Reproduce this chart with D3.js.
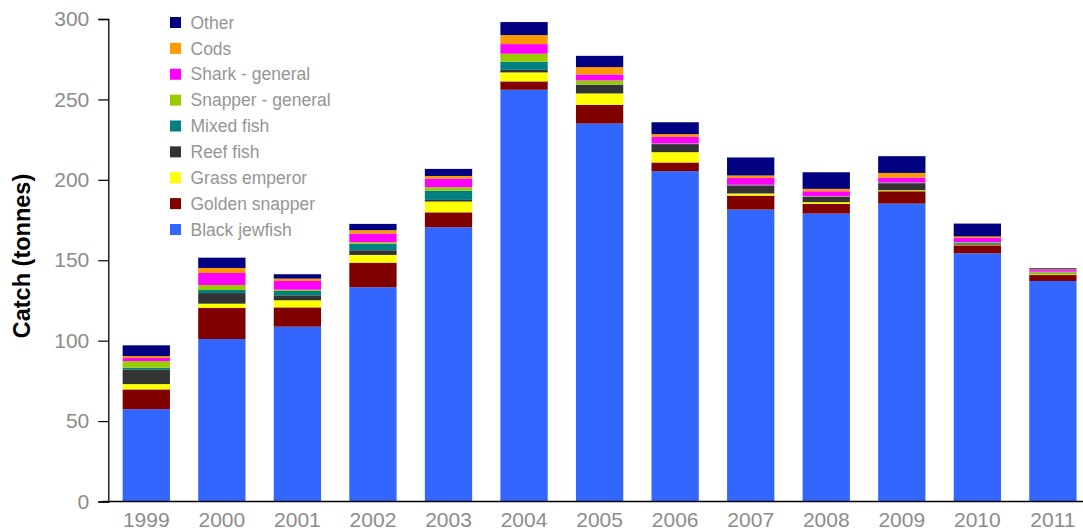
<!DOCTYPE html>
<html>
<head>
<meta charset="utf-8">
<script src="https://cdn.jsdelivr.net/npm/d3@7/dist/d3.min.js"></script>
<style>
  html, body { margin: 0; padding: 0; background: #fff; }
  svg { display: block; }
  text { font-family: "Liberation Sans", Arial, sans-serif; }
</style>
</head>
<body>
<svg id="chart" width="1083" height="531"></svg>
<script>
// Years on the x axis
const years = ["1999","2000","2001","2002","2003","2004","2005","2006","2007","2008","2009","2010","2011"];

// Catch by species group (tonnes), stacked bottom to top
const blackJewfish   = [57.4, 101.0, 108.7, 133.2, 170.5, 256.0, 235.0, 205.4, 181.5, 179.0, 185.2, 154.3, 137.1];
const goldenSnapper  = [12.3,  19.3,  12.0,  15.3,   9.3,   5.2,  11.6,   5.4,   8.7,   6.0,   7.7,   5.0,   3.7];
const grassEmperor   = [ 3.3,   2.7,   4.4,   4.8,   6.7,   5.6,   7.1,   6.4,   1.3,   1.1,   0.6,   0.4,   0.5];
const reefFish       = [ 9.1,   6.6,   3.1,   2.9,   1.0,   1.6,   5.4,   5.0,   5.0,   3.3,   4.4,   0.6,   0.3];
const mixedFish      = [ 1.1,   1.9,   2.7,   4.1,   5.8,   5.0,   0.2,   0.2,   0.2,   0.2,   0.2,   0.7,   0.3];
const snapperGeneral = [ 4.1,   3.1,   0.8,   0.9,   2.1,   5.0,   2.5,   0.2,   0.2,   0.2,   0.2,   0.3,   1.0];
const sharkGeneral   = [ 1.9,   7.5,   5.4,   5.4,   5.4,   6.0,   3.7,   4.1,   4.3,   3.1,   3.1,   2.5,   1.0];
const cods           = [ 1.2,   3.1,   1.5,   2.1,   1.6,   5.6,   4.6,   1.7,   1.5,   1.5,   2.9,   1.0,   0.5];
const other          = [ 6.7,   6.4,   2.7,   3.9,   4.4,   8.1,   7.0,   7.4,  11.2,  10.3,  10.4,   8.0,   0.6];

// Series names, bottom of stack first
const seriesNames  = ["Black jewfish","Golden snapper","Grass emperor","Reef fish","Mixed fish","Snapper - general","Shark - general","Cods","Other"];
const seriesValues = [blackJewfish, goldenSnapper, grassEmperor, reefFish, mixedFish, snapperGeneral, sharkGeneral, cods, other];
const seriesColors = ["#3366FF","#800000","#FFFF00","#333333","#008080","#99CC00","#FF00FF","#FF9900","#000080"];

// Y axis ticks
const yTicks = [0, 50, 100, 150, 200, 250, 300];

const svg = d3.select("#chart");

// Row-per-year table for d3.stack
const table = years.map((y, i) => {
  const row = { year: y };
  seriesNames.forEach((name, k) => { row[name] = seriesValues[k][i]; });
  return row;
});
const stacked = d3.stack().keys(seriesNames)(table);

const x = d3.scaleBand()
  .domain(years)
  .range([108.3, 1090.9])
  .paddingInner(0.374)
  .paddingOuter(0.19);

const y = d3.scaleLinear()
  .domain([0, 300])
  .range([501.5, 19]);

// Stacked bars
const colorOf = d3.scaleOrdinal().domain(seriesNames).range(seriesColors);
svg.append("g")
  .selectAll("g")
  .data(stacked)
  .join("g")
    .attr("fill", d => colorOf(d.key))
  .selectAll("rect")
  .data(d => d)
  .join("rect")
    .attr("x", d => x(d.data.year))
    .attr("width", x.bandwidth())
    .attr("y", d => y(d[1]))
    .attr("height", d => Math.max(0, y(d[0]) - y(d[1])));

// Y axis
const yAxis = svg.append("g")
  .attr("transform", "translate(108.3,0)")
  .call(d3.axisLeft(y).tickValues(yTicks).tickSize(10).tickPadding(9).tickFormat(d3.format("d")));
yAxis.select(".domain").attr("stroke", "#000").attr("stroke-width", 1.3);
yAxis.selectAll(".tick line").attr("stroke", "#000").attr("stroke-width", 1.2);
yAxis.selectAll(".tick text")
  .attr("fill", "#8c8c8c")
  .style("font-size", "21px")
  .style("font-family", "'Liberation Sans', Arial, sans-serif");

// X axis
const xAxis = svg.append("g")
  .attr("transform", "translate(0,501.5)")
  .call(d3.axisBottom(x).tickSize(0).tickPadding(11));
xAxis.select(".domain").remove();
xAxis.append("line")
  .attr("x1", 102.7).attr("x2", 1083)
  .attr("stroke", "#000").attr("stroke-width", 1.3);
xAxis.selectAll(".tick text")
  .attr("fill", "#8c8c8c")
  .style("font-size", "21px")
  .style("font-family", "'Liberation Sans', Arial, sans-serif");

// Y axis title
svg.append("text")
  .attr("transform", "translate(30,256) rotate(-90)")
  .attr("text-anchor", "middle")
  .attr("fill", "#000")
  .style("font-size", "23.5px")
  .style("font-weight", "bold")
  .text("Catch (tonnes)");

// Legend, top entry is the top of the stack
const legendItems = seriesNames.map((name, k) => ({ name, color: seriesColors[k] })).reverse();
const legendY = d3.scalePoint().domain(legendItems.map(d => d.name)).range([22.5, 229.5]);
const legend = svg.append("g");
const entry = legend.selectAll("g")
  .data(legendItems)
  .join("g")
    .attr("transform", d => `translate(170,${legendY(d.name)})`);
entry.append("rect")
  .attr("x", 0).attr("y", -5.5)
  .attr("width", 11).attr("height", 11)
  .attr("fill", d => d.color);
entry.append("text")
  .attr("x", 20.5).attr("y", 0)
  .attr("dy", "0.35em")
  .attr("fill", "#959595")
  .style("font-size", "17.5px")
  .text(d => d.name);
</script>
</body>
</html>
